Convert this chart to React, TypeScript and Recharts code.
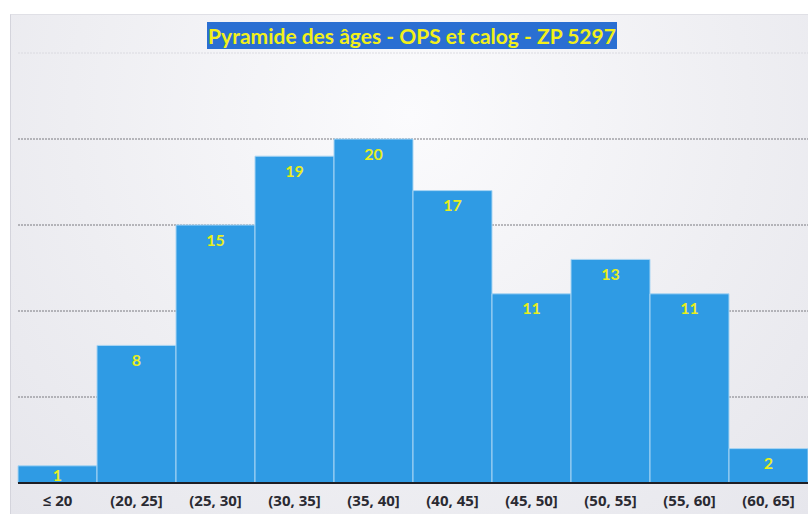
import React from "react";
import { BarChart, Bar, XAxis, YAxis, CartesianGrid, LabelList } from "recharts";

const ageGroups = ["≤ 20", "(20, 25]", "(25, 30]", "(30, 35]", "(35, 40]", "(40, 45]", "(45, 50]", "(50, 55]", "(55, 60]", "(60, 65]"];
const counts = [1, 8, 15, 19, 20, 17, 11, 13, 11, 2];
const yTicks = [0, 5, 10, 15, 20, 25];
const gridValues = [5, 10, 15, 20];
const topGridValues = [25];

const data = ageGroups.map((g, i) => ({ group: g, count: counts[i] }));

const FONT = "Lato, 'Open Sans', sans-serif";

function BarValue(props: any) {
  const { x, y, width, height, value } = props;
  const cy = Math.min(y + 14, y + height / 2);
  return (
    <text
      x={x + width / 2}
      y={cy}
      textAnchor="middle"
      dominantBaseline="central"
      fill="#e8ee1e"
      fontFamily={FONT}
      fontWeight={700}
      fontSize={16}
    >
      {value}
    </text>
  );
}

export default function App() {
  return (
    <div style={{ position: "absolute", left: 0, top: 0, width: 808, height: 514, background: "#fff", overflow: "hidden" }}>
      <div
        style={{
          position: "absolute",
          left: 10,
          top: 14,
          width: 798,
          height: 500,
          background: "radial-gradient(ellipse at 50% 20%, #fbfbfd 0%, #eeeef2 60%, #e6e6ec 100%)",
          borderLeft: "1px solid #d4d4dc",
          borderTop: "1px solid #e0e0e6",
        }}
      />
      <div style={{ position: "absolute", left: 0, top: 0 }}>
        <BarChart
          width={808}
          height={514}
          data={data}
          margin={{ top: 53, right: 0, left: 18, bottom: 1 }}
          barCategoryGap={0}
        >
          <CartesianGrid vertical={false} horizontalValues={gridValues} stroke="#7a7a80" strokeDasharray="2 1" strokeWidth={1} />
          <CartesianGrid vertical={false} horizontalValues={topGridValues} stroke="#dadae0" strokeDasharray="2 1" strokeWidth={1} />
          <YAxis hide domain={[0, 25]} ticks={yTicks} />
          <XAxis
            dataKey="group"
            axisLine={{ stroke: "#1e1e24", strokeWidth: 2 }}
            tickLine={false}
            height={30}
            interval={0}
            tick={{ fill: "#2a2a32", fontSize: 15, fontWeight: 700, fontFamily: "'Open Sans', sans-serif" }}
            tickMargin={6}
          />
          <Bar dataKey="count" fill="#2f9be4" stroke="#a9d5f3" strokeWidth={1} isAnimationActive={false}>
            <LabelList dataKey="count" content={BarValue} />
          </Bar>
        </BarChart>
      </div>
      <div
        style={{
          position: "absolute",
          left: 207,
          top: 22,
          width: 410,
          height: 27,
          background: "#2a6fd2",
          color: "#f2f01a",
          fontFamily: FONT,
          fontWeight: 700,
          fontSize: 21,
          lineHeight: "27px",
          textAlign: "center",
          whiteSpace: "nowrap",
        }}
      >
        Pyramide des âges - OPS et calog - ZP 5297
      </div>
    </div>
  );
}
